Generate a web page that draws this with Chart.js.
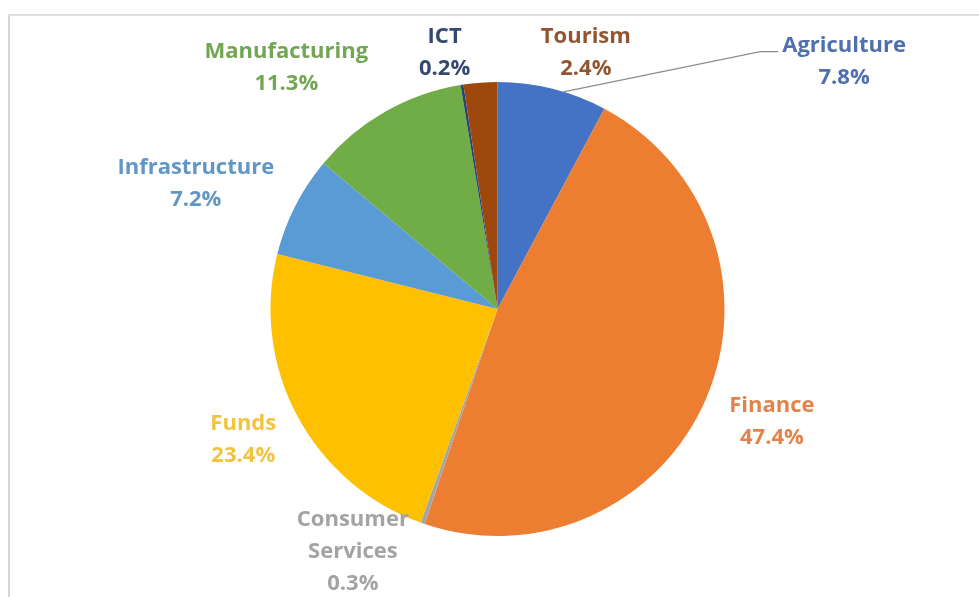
<!DOCTYPE html>
<html>
<head>
<meta charset="utf-8">
<script src="https://cdn.jsdelivr.net/npm/chart.js@4/dist/chart.umd.min.js"></script>
<style>
  html, body { margin: 0; padding: 0; background: #fff; }
  #marco {
    position: absolute; left: 8px; top: 14px; width: 971px; height: 583px;
    border-top: 2px solid #e0e0e0; border-left: 2px solid #d6d6d6;
  }
  #wrap { position: absolute; left: 0; top: 0; width: 979px; height: 597px; }
</style>
</head>
<body>
<div id="marco"></div>
<div id="wrap"><canvas id="graficaSectores"></canvas></div>
<script>
const sectores = ['Agriculture', 'Finance', 'Consumer Services', 'Funds', 'Infrastructure', 'Manufacturing', 'ICT', 'Tourism'];
const porcentajes = [7.8, 47.4, 0.3, 23.4, 7.2, 11.3, 0.2, 2.4];
const colores = ['#4472C4', '#ED7D31', '#A5A5A5', '#FFC000', '#5B9BD5', '#70AD47', '#264478', '#9E480E'];
const coloresTexto = ['#4F70B0', '#E2844A', '#A3A3A3', '#F3C241', '#6196C6', '#72A653', '#35496E', '#8F5631'];
// lineas de cada etiqueta
const etiquetas = [['Agriculture'], ['Finance'], ['Consumer', 'Services'], ['Funds'], ['Infrastructure'], ['Manufacturing'], ['ICT'], ['Tourism']];

// desplazamiento de cada etiqueta respecto a su posicion radial
const ajustes = [[277, 31], [11, -1], [-50, -28], [-1, -4], [-46, 5], [-69, 8], [-8, 27], [110, 30]];

const etiquetasPlugin = {
    id: 'etiquetasPastel',
    afterDatasetsDraw(chart) {
        const ctx = chart.ctx;
        const meta = chart.getDatasetMeta(0);
        const alto = 32;
        ctx.save();
        ctx.font = 'bold 22px "Open Sans"';
        ctx.textAlign = 'center';
        ctx.textBaseline = 'middle';
        meta.data.forEach((arc, i) => {
            const p = arc.getProps(['x', 'y', 'startAngle', 'endAngle', 'outerRadius'], true);
            const medio = (p.startAngle + p.endAngle) / 2;
            const r = p.outerRadius + 60;
            const cx = p.x + Math.cos(medio) * r + ajustes[i][0];
            const cy = p.y + Math.sin(medio) * r + ajustes[i][1];
            const lineas = etiquetas[i].concat([porcentajes[i].toFixed(1) + '%']);
            const y0 = cy - (lineas.length - 1) * alto / 2;
            ctx.fillStyle = coloresTexto[i];
            lineas.forEach((t, k) => ctx.fillText(t, cx, y0 + k * alto));

            // linea guia solo para Agriculture
            if (i === 0) {
                const ancho = ctx.measureText(lineas[0]).width;
                const xl = cx - ancho / 2 - 4;
                const yl = y0 + 6;
                ctx.strokeStyle = '#8c8c8c';
                ctx.lineWidth = 1.2;
                ctx.beginPath();
                ctx.moveTo(xl, yl);
                ctx.lineTo(xl - 18, yl);
                ctx.lineTo(p.x + Math.cos(medio + 0.05) * p.outerRadius, p.y + Math.sin(medio + 0.05) * p.outerRadius);
                ctx.stroke();
            }
        });
        ctx.restore();
    }
};

new Chart(document.getElementById('graficaSectores'), {
    type: 'pie',
    data: {
        labels: sectores,
        datasets: [{
            data: porcentajes,
            backgroundColor: colores,
            borderWidth: 0
        }]
    },
    options: {
        responsive: true,
        maintainAspectRatio: false,
        animation: false,
        layout: {
            padding: { top: 82, bottom: 61, left: 16, right: 0 }
        },
        plugins: {
            legend: { display: false },
            tooltip: { enabled: false }
        }
    },
    plugins: [etiquetasPlugin]
});
</script>
</body>
</html>
